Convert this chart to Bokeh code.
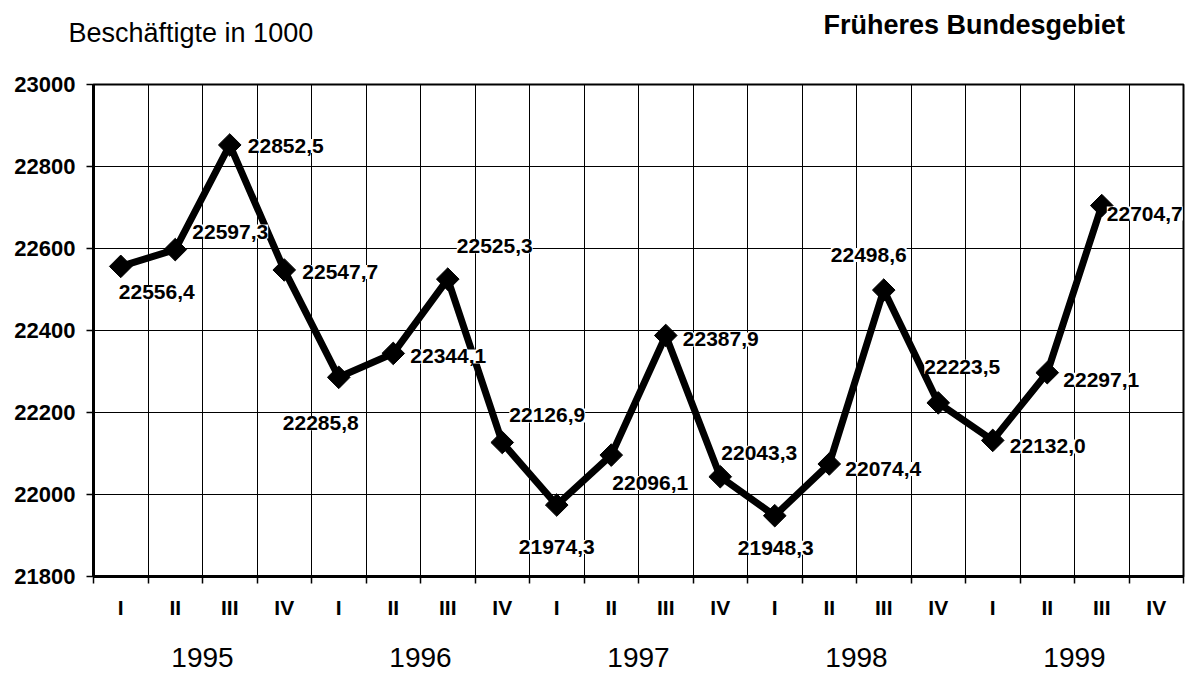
import math
from bokeh.plotting import figure
from bokeh.layouts import column
from bokeh.models import Range1d, FixedTicker, LinearAxis, ColumnDataSource, LabelSet
from bokeh.core.properties import value
from bokeh.embed import file_html
from bokeh.resources import INLINE

# ---------------- data ----------------
years = ["1995", "1996", "1997", "1998", "1999"]
quarters = ["I", "II", "III", "IV", "I", "II", "III", "IV", "I", "II",
            "III", "IV", "I", "II", "III", "IV", "I", "II", "III", "IV"]
employed = [22556.4, 22597.3, 22852.5, 22547.7, 22285.8, 22344.1, 22525.3,
            22126.9, 21974.3, 22096.1, 22387.9, 22043.3, 21948.3, 22074.4,
            22498.6, 22223.5, 22132.0, 22297.1, 22704.7]
y_ticks = [21800, 22000, 22200, 22400, 22600, 22800, 23000]
unit_title = "Beschäftigte in 1000"
region_title = "Früheres Bundesgebiet"

# label placement (screen px offsets from each point)
label_dx = [36, 55, 56, 56, -18, 55, 47, 45, 0, 39, 55, 39, 1, 54, -15, 24, 55, 54, 43]
label_dy = [-26, 18, -1, -2, -46, -3, 33, 27, -42, -28, -4, 24, -32, -5, 35, 36, -6, -7, -8]

FONT = "Liberation Sans"
W, H = 1195, 674
HEAD_H = 64

xs = [i + 0.5 for i in range(len(employed))]
texts = [f"{v:.1f}".replace(".", ",") for v in employed]

# ---------------- header ----------------
head = figure(width=W, height=HEAD_H, x_range=Range1d(0, W), y_range=Range1d(HEAD_H, 0),
              output_backend="svg", toolbar_location=None, min_border=0,
              background_fill_color="white", border_fill_color="white")
head.outline_line_color = None
head.axis.visible = False
head.grid.visible = False
head.text(x=[68], y=[32], text=[unit_title], text_font=value(FONT),
          text_font_size="27px", text_color="black",
          text_align="left", text_baseline="middle")
head.text(x=[823], y=[24], text=[region_title], text_font=value(FONT),
          text_font_size="27px", text_font_style="bold", text_color="black",
          text_align="left", text_baseline="middle")

# ---------------- main chart ----------------
p = figure(width=W, height=H - HEAD_H,
           x_range=Range1d(0, len(quarters)), y_range=Range1d(y_ticks[0], y_ticks[-1]),
           output_backend="svg", toolbar_location=None,
           min_border_left=93, min_border_right=12, min_border_top=20, min_border_bottom=98,
           background_fill_color="white", border_fill_color="white")
p.outline_line_color = "black"
p.outline_line_width = 2

if "frame_align" in p.properties():
    p.frame_align = False
    head.frame_align = False

# x axis: quarters
xa = p.xaxis[0]
xa.ticker = FixedTicker(ticks=[i + 0.5 for i in range(len(quarters))],
                        minor_ticks=list(range(len(quarters) + 1)))
xa.major_label_overrides = {i + 0.5: q for i, q in enumerate(quarters)}
xa.major_tick_out = 0
xa.major_tick_in = 0
xa.minor_tick_out = 7
xa.minor_tick_in = 0
xa.minor_tick_line_color = "black"
xa.minor_tick_line_width = 1.5
xa.axis_line_color = "black"
xa.axis_line_width = 3
xa.major_label_text_font = FONT
xa.major_label_text_font_size = "21px"
xa.major_label_text_font_style = "bold"
xa.major_label_text_color = "black"
xa.major_label_standoff = 12

# year axis below
year_axis = LinearAxis(ticker=FixedTicker(ticks=[4 * i + 2 for i in range(len(years))]),
                       major_label_overrides={4 * i + 2: y for i, y in enumerate(years)})
year_axis.axis_line_color = None
year_axis.major_tick_line_color = None
year_axis.minor_tick_line_color = None
year_axis.major_label_text_font = FONT
year_axis.major_label_text_font_size = "28px"
year_axis.major_label_text_color = "black"
year_axis.major_label_standoff = 20
p.add_layout(year_axis, "below")

# y axis
yax = p.yaxis[0]
yax.ticker = FixedTicker(ticks=y_ticks)
yax.major_tick_out = 7
yax.major_tick_in = 0
yax.major_tick_line_color = "black"
yax.major_tick_line_width = 1.5
yax.minor_tick_line_color = None
yax.axis_line_color = "black"
yax.axis_line_width = 3
yax.major_label_text_font = FONT
yax.major_label_text_font_size = "22px"
yax.major_label_text_font_style = "bold"
yax.major_label_text_color = "black"
yax.major_label_standoff = 11

# grids
p.xgrid.ticker = FixedTicker(ticks=list(range(1, len(quarters))))
p.xgrid.grid_line_color = "black"
p.xgrid.grid_line_width = 1
p.ygrid.ticker = FixedTicker(ticks=y_ticks)
p.ygrid.grid_line_color = "black"
p.ygrid.grid_line_width = 1.2

# series
p.line(xs, employed, line_color="black", line_width=7, line_join="miter")
p.scatter(xs, employed, marker="square", size=16, angle=math.pi / 4,
          fill_color="black", line_color="black")

src = ColumnDataSource(dict(x=xs, y=employed, text=texts, dx=label_dx, dy=label_dy))
lkw = dict(x="x", y="y", text="text", x_offset="dx", y_offset="dy", source=src,
           text_font=value(FONT), text_font_size="21px", text_font_style="bold",
           text_color="black", text_align="center", text_baseline="middle",
           background_fill_color="white")
if "padding" in LabelSet.properties():
    lkw["padding"] = 5
p.add_layout(LabelSet(**lkw))

layout = column(head, p, spacing=0)
open("out.html", "w").write(file_html(layout, INLINE))
